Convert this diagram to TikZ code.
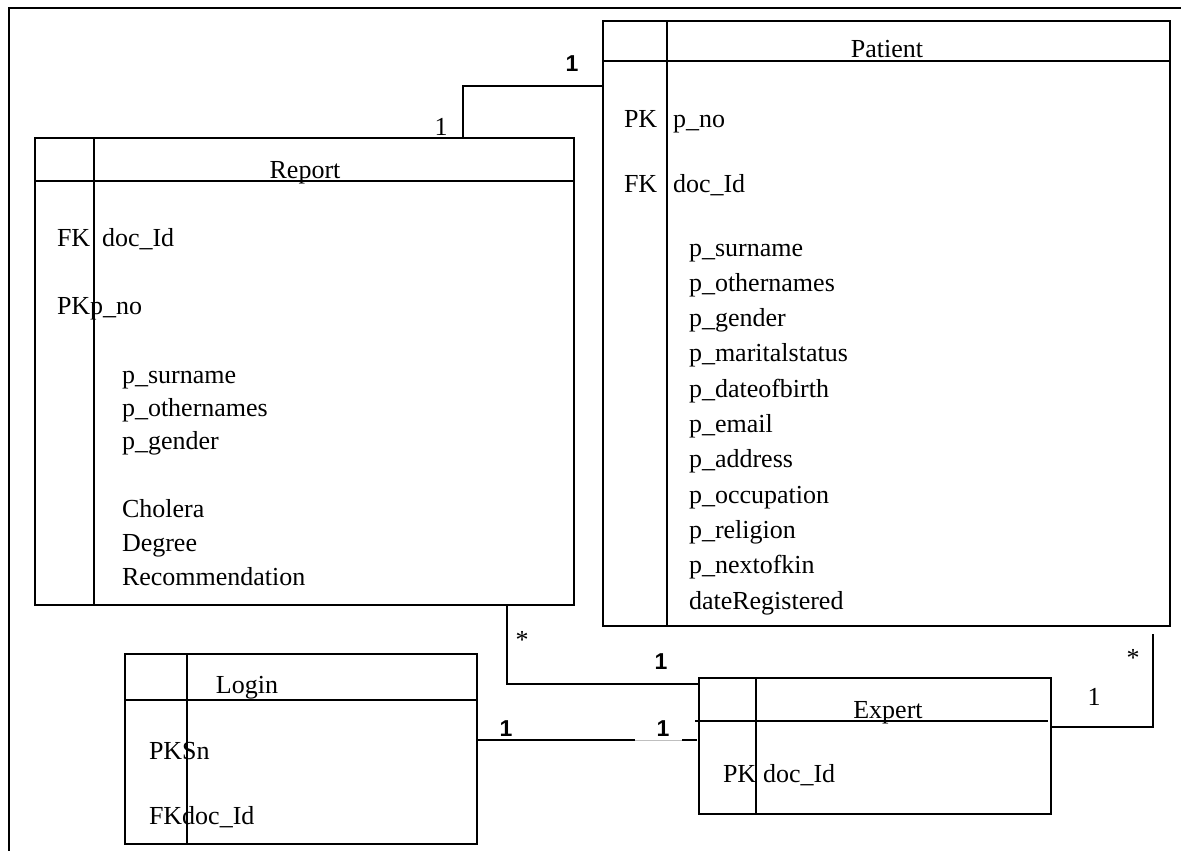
\documentclass[tikz,border=0pt]{standalone}
\usepackage{fontspec}
\setmainfont{Liberation Serif}
\newfontfamily\lblsans{Liberation Sans}
\begin{document}
\begin{tikzpicture}[x=1pt,y=-1pt,
  every node/.style={inner sep=0pt,outer sep=0pt},
  ent/.style={draw,line width=1.8pt,anchor=north west},
  ln/.style={line width=1.8pt},
  txt/.style={anchor=base west,font=\fontsize{26}{30}\selectfont},
  ttl/.style={anchor=base,font=\fontsize{26}{30}\selectfont},
  serlbl/.style={font=\fontsize{26}{30}\selectfont},
  sanslbl/.style={font=\lblsans\bfseries\fontsize{23}{27}\selectfont}]
\useasboundingbox (0,0) rectangle (1181,851);
% frame
\draw[ln] (1181,8) -- (9,8) -- (9,851);

% ---------- Report ----------
\node[ent,minimum width=539pt,minimum height=467pt] (report) at (35,138) {};
\draw[ln] (94,138) -- (94,605);
\draw[ln] (35,181) -- (574,181);
\node[ttl] (reportT) at (305,178) {Report};
\node[txt] (rfk) at (57,246) {FK};
\node[txt] (rfk2) at (102,246) {doc\_Id};
\node[txt] (rpk) at (57,314) {PKp\_no};
\node[txt] (r1) at (122,383) {p\_surname};
\node[txt] (r2) at (122,416) {p\_othernames};
\node[txt] (r3) at (122,449) {p\_gender};
\node[txt] (r4) at (122,517) {Cholera};
\node[txt] (r5) at (122,551) {Degree};
\node[txt] (r6) at (122,585) {Recommendation};

% ---------- Patient ----------
\node[ent,minimum width=567pt,minimum height=605pt] (patient) at (603,21) {};
\draw[ln] (667,21) -- (667,626);
\draw[ln] (603,61) -- (1170,61);
\node[ttl] (patientT) at (887,58) {Patient};
\node[txt] (ppk) at (624,127) {PK};
\node[txt] (ppk2) at (673,127) {p\_no};
\node[txt] (pfk) at (624,192) {FK};
\node[txt] (pfk2) at (673,192) {doc\_Id};
\node[txt] (p1) at (689,256) {p\_surname};
\node[txt] (p2) at (689,291.3) {p\_othernames};
\node[txt] (p3) at (689,326.6) {p\_gender};
\node[txt] (p4) at (689,361.9) {p\_maritalstatus};
\node[txt] (p5) at (689,397.2) {p\_dateofbirth};
\node[txt] (p6) at (689,432.5) {p\_email};
\node[txt] (p7) at (689,467.8) {p\_address};
\node[txt] (p8) at (689,503.1) {p\_occupation};
\node[txt] (p9) at (689,538.4) {p\_religion};
\node[txt] (p10) at (689,573.7) {p\_nextofkin};
\node[txt] (p11) at (689,609) {dateRegistered};

% ---------- Login ----------
\node[ent,minimum width=352pt,minimum height=190pt] (login) at (125,654) {};
\draw[ln] (187,654) -- (187,844);
\draw[ln] (125,700) -- (477,700);
\node[ttl] (loginT) at (247,693) {Login};
\node[txt] (lpk) at (149,759) {PKSn};
\node[txt] (lfk) at (149,824) {FKdoc\_Id};

% ---------- Expert ----------
\node[ent,minimum width=352pt,minimum height=136pt] (expert) at (699,678) {};
\draw[ln] (756,678) -- (756,814);
\draw[ln] (695,721) -- (1048,721);
\node[ttl] (expertT) at (888,718) {Expert};
\node[txt] (epk) at (723,782) {PK};
\node[txt] (epk2) at (763,782) {doc\_Id};

% ---------- connectors ----------
\coordinate (rpA) at (463,138);
\coordinate (rpB) at (463,86);
\coordinate (rpC) at (603,86);
\draw[ln] (rpA) -- (rpB) -- (rpC);
\node[serlbl] (l1) at (441,127) {1};
\node[sanslbl] (l2) at (572,64) {1};

\coordinate (reA) at (507,605);
\coordinate (reB) at (507,684);
\coordinate (reC) at (699,684);
\draw[ln] (reA) -- (reB) -- (reC);
\node[serlbl] (l3) at (522,640) {*};
\node[sanslbl] (l4) at (661,662) {1};

\coordinate (leA) at (477,740);
\coordinate (leB) at (635,740);
\coordinate (leC) at (682,740);
\coordinate (leD) at (697,740);
\draw[ln] (leA) -- (leB);
\draw[line width=0.8pt,black!25] (leB) -- (leC);
\draw[ln] (leC) -- (leD);
\node[sanslbl] (l5) at (506,729) {1};
\node[sanslbl] (l6) at (663,729) {1};

\coordinate (epA) at (1051,727);
\coordinate (epB) at (1153,727);
\coordinate (epC) at (1153,634);
\draw[ln] (epA) -- (epB) -- (epC);
\node[serlbl] (l7) at (1133,658) {*};
\node[serlbl] (l8) at (1094,697) {1};
\end{tikzpicture}
\end{document}
